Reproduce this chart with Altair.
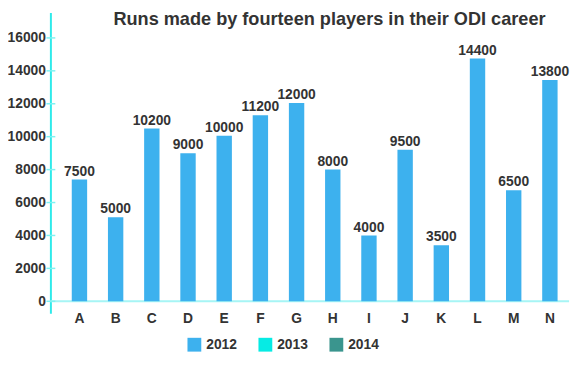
import altair as alt
import pandas as pd

players = ["A", "B", "C", "D", "E", "F", "G", "H", "I", "J", "K", "L", "M", "N"]
bar_values = [7400, 5100, 10500, 9000, 10050, 11300, 12050, 8000, 4000, 9200, 3400, 14750, 6750, 13450]
label_values = [7500, 5000, 10200, 9000, 10000, 11200, 12000, 8000, 4000, 9500, 3500, 14400, 6500, 13800]
series = ["2012", "2013", "2014"]
series_colors = ["#3db1ee", "#06ebe4", "#3a958e"]
y_ticks = [0, 2000, 4000, 6000, 8000, 10000, 12000, 14000, 16000]
title_text = "Runs made by fourteen players in their ODI career"

df = pd.DataFrame({
    "player": players,
    "runs": bar_values,
    "label": [str(v) for v in label_values],
    "year": ["2012"] * len(players),
})
ticks_df = pd.DataFrame({"t": y_ticks})

FONT = "Liberation Sans"
TXT = "#333333"

xscale = alt.Scale(paddingInner=0.575, paddingOuter=0.454, align=0.65)
yscale = alt.Scale(domain=[-720, 17550], nice=False, zero=False)

y_axis = alt.Axis(title=None, values=y_ticks, grid=False, ticks=False,
                  domainColor="#2eeaea", domainWidth=2, labelPadding=5,
                  labelOverlap=False, labelFont=FONT, labelFontSize=14,
                  labelFontWeight="bold", labelColor=TXT, format="d")
x_axis = alt.Axis(title=None, labelAngle=0, domain=False, ticks=False,
                  labelPadding=-2, labelFont=FONT, labelFontSize=14,
                  labelFontWeight="bold", labelColor=TXT)

zero_line = alt.Chart(pd.DataFrame({"z": [0]})).mark_rule(
    color="#a6f5f5", strokeWidth=2
).encode(y=alt.Y("z:Q", scale=yscale, axis=y_axis))

bars = alt.Chart(df).mark_bar().encode(
    x=alt.X("player:N", scale=xscale, sort=players, axis=x_axis),
    y=alt.Y("runs:Q", scale=yscale, axis=y_axis),
    color=alt.Color("year:N",
                    scale=alt.Scale(domain=series, range=series_colors),
                    legend=alt.Legend(title=None, orient="none", direction="horizontal",
                                      legendX=139, legendY=330, symbolType="square",
                                      symbolSize=196, symbolStrokeWidth=0,
                                      labelFont=FONT, labelFontSize=14,
                                      labelFontWeight="bold", labelColor=TXT,
                                      labelOffset=5, columnPadding=21, padding=0)),
)

labels = alt.Chart(df).mark_text(
    font=FONT, fontSize=14, fontWeight="bold", color=TXT,
    baseline="alphabetic", dy=-4,
).encode(
    x=alt.X("player:N", scale=xscale, sort=players, axis=x_axis),
    y=alt.Y("runs:Q", scale=yscale, axis=y_axis),
    text="label:N",
)

tick_marks = alt.Chart(ticks_df).mark_rule(color="#7ff2f2", strokeWidth=1.5).encode(
    y=alt.Y("t:Q", scale=yscale, axis=y_axis),
    x=alt.value(-4),
    x2=alt.value(5),
)

title = alt.Chart(pd.DataFrame({"t": [title_text]})).mark_text(
    font=FONT, fontSize=18.4, fontWeight="bold", color=TXT,
    align="center", baseline="alphabetic",
).encode(text="t:N", x=alt.value(283), y=alt.value(12.5))

chart = alt.layer(zero_line, bars, labels, tick_marks, title).properties(
    width=526,
    height=305,
    autosize=alt.AutoSizeParams(type="none"),
    padding={"left": 43, "top": 2, "right": 6, "bottom": 42},
    background="white",
).configure_view(strokeWidth=0)

chart.save("out.html", embed_options={"renderer": "svg", "actions": False})
